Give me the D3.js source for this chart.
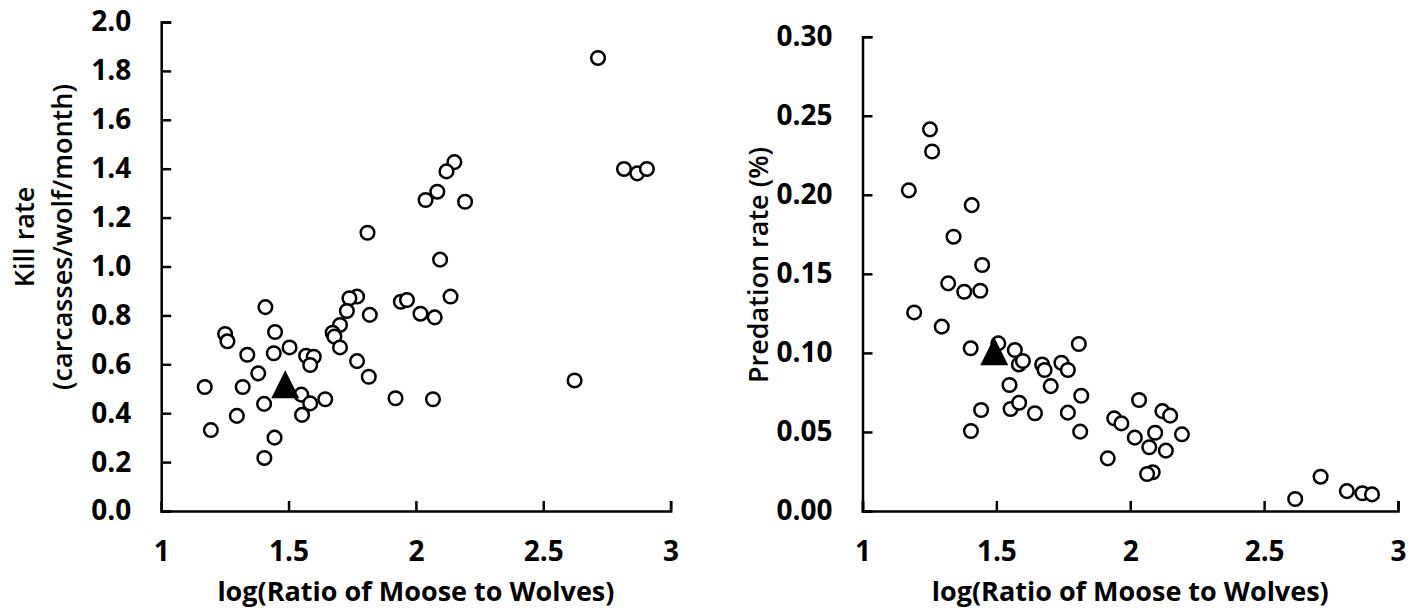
<!DOCTYPE html>
<html>
<head>
<meta charset="utf-8">
<script src="https://cdn.jsdelivr.net/npm/d3@7"></script>
<style>
  body { margin: 0; background: #fff; }
  svg text { font-family: "Open Sans", "Noto Sans", sans-serif; fill: #000; }
</style>
</head>
<body>
<svg id="chart" width="1421" height="609"></svg>
<script>
// x values: log(ratio of moose to wolves)
var killX = [2.715, 2.817, 2.869, 2.907, 2.151, 2.120, 2.084, 2.038, 2.193, 1.810,
             2.095, 2.136, 1.941, 1.965, 2.018, 2.074, 1.769, 1.739, 1.729, 1.819,
             1.702, 1.673, 1.680, 1.702, 1.769, 1.815, 1.920, 2.067, 2.623, 1.409,
             1.251, 1.260, 1.447, 1.338, 1.442, 1.504, 1.569, 1.599, 1.585, 1.381,
             1.171, 1.320, 1.550, 1.585, 1.644, 1.404, 1.297, 1.553, 1.195, 1.445,
             1.405];
// kill rate (carcasses/wolf/month)
var killY = [1.853, 1.399, 1.381, 1.399, 1.427, 1.389, 1.306, 1.272, 1.265, 1.138,
             1.028, 0.877, 0.856, 0.863, 0.807, 0.792, 0.877, 0.870, 0.818, 0.802,
             0.761, 0.729, 0.713, 0.669, 0.613, 0.549, 0.461, 0.457, 0.534, 0.834,
             0.724, 0.694, 0.732, 0.639, 0.645, 0.669, 0.635, 0.631, 0.597, 0.563,
             0.507, 0.507, 0.476, 0.440, 0.457, 0.438, 0.389, 0.393, 0.331, 0.300,
             0.217];
var killMean = [1.487, 0.499];

var predX = [1.252, 1.260, 1.173, 1.408, 1.340, 1.447, 1.320, 1.380, 1.440, 1.193,
             1.296, 1.404, 1.507, 1.569, 1.584, 1.599, 1.808, 1.671, 1.680, 1.743,
             1.767, 1.703, 1.549, 1.817, 1.443, 1.553, 1.585, 1.644, 1.767, 1.405,
             1.813, 2.033, 1.940, 1.967, 2.120, 2.149, 2.017, 2.093, 2.193, 2.071,
             2.133, 1.916, 2.084, 2.063, 2.711, 2.616, 2.809, 2.867, 2.903];
// predation rate (%)
var predY = [0.2414, 0.2274, 0.2028, 0.1935, 0.1735, 0.1556, 0.1440, 0.1387, 0.1393, 0.1256,
             0.1166, 0.1029, 0.1060, 0.1018, 0.0927, 0.0949, 0.1056, 0.0927, 0.0892, 0.0938,
             0.0892, 0.0790, 0.0797, 0.0729, 0.0639, 0.0645, 0.0685, 0.0618, 0.0622, 0.0506,
             0.0502, 0.0702, 0.0586, 0.0554, 0.0632, 0.0603, 0.0464, 0.0495, 0.0485, 0.0403,
             0.0382, 0.0333, 0.0245, 0.0234, 0.0217, 0.0076, 0.0126, 0.0112, 0.0105];
var predMean = [1.492, 0.098];

var xTicks = [1, 1.5, 2, 2.5, 3];
var killTicks = [0, 0.2, 0.4, 0.6, 0.8, 1.0, 1.2, 1.4, 1.6, 1.8, 2.0];
var predTicks = [0, 0.05, 0.10, 0.15, 0.20, 0.25, 0.30];
var xTitle = "log(Ratio of Moose to Wolves)";

var svg = d3.select("#chart");

function panel(opts) {
    var g = svg.append("g");
    var x = d3.scaleLinear().domain([1, 3]).range([opts.left, opts.right]);
    var y = d3.scaleLinear().domain([0, opts.ymax]).range([511, opts.top]);

    var xa = g.append("g")
        .attr("transform", "translate(0,511)")
        .call(d3.axisBottom(x).tickValues(xTicks).tickSize(-10).tickPadding(30)
              .tickFormat(function(d) { return String(d); }));
    var ya = g.append("g")
        .attr("transform", "translate(" + opts.left + ",0)")
        .call(d3.axisLeft(y).tickValues(opts.yticks).tickSize(-10).tickPadding(30)
              .tickFormat(d3.format(opts.fmt)));
    [xa, ya].forEach(function(a) {
        a.selectAll("path, line").attr("stroke", "#000").attr("stroke-width", 2.5);
        a.selectAll("text").attr("font-size", 28).attr("font-weight", 700)
            .attr("font-family", "'Open Sans', sans-serif").attr("fill", "#000");
    });

    g.append("text")
        .attr("x", (opts.left + opts.right) / 2).attr("y", 601)
        .attr("text-anchor", "middle").attr("font-size", 27).attr("font-weight", 700)
        .text(xTitle);

    opts.ytitle.forEach(function(t, i) {
        g.append("text")
            .attr("transform", "translate(" + opts.titleX[i] + "," + opts.titleY + ") rotate(-90)")
            .attr("text-anchor", "middle").attr("font-size", 27).attr("font-weight", 600)
            .text(t);
    });

    g.selectAll("circle.pt")
        .data(d3.range(opts.xs.length))
        .enter()
        .append("circle")
        .attr("class", "pt")
        .attr("cx", function(i) { return x(opts.xs[i]); })
        .attr("cy", function(i) { return y(opts.ys[i]); })
        .attr("r", 6.8)
        .attr("fill", "#fff")
        .attr("stroke", "#000")
        .attr("stroke-width", 2.5);

    // mean marker (filled triangle)
    g.append("path")
        .attr("d", "M0,-18.7L14,9.3L-14,9.3Z")
        .attr("transform", "translate(" + x(opts.mean[0]) + "," + y(opts.mean[1]) + ")")
        .attr("fill", "#000");
}

panel({ left: 161.2, right: 670.6, top: 22, ymax: 2.0, yticks: killTicks, fmt: ".1f",
        xs: killX, ys: killY, mean: killMean,
        ytitle: ["Kill rate", "(carcasses/wolf/month)"], titleX: [34, 72], titleY: 237 });

panel({ left: 862.5, right: 1398, top: 36.7, ymax: 0.30, yticks: predTicks, fmt: ".2f",
        xs: predX, ys: predY, mean: predMean,
        ytitle: ["Predation rate (%)"], titleX: [768], titleY: 265 });
</script>
</body>
</html>
